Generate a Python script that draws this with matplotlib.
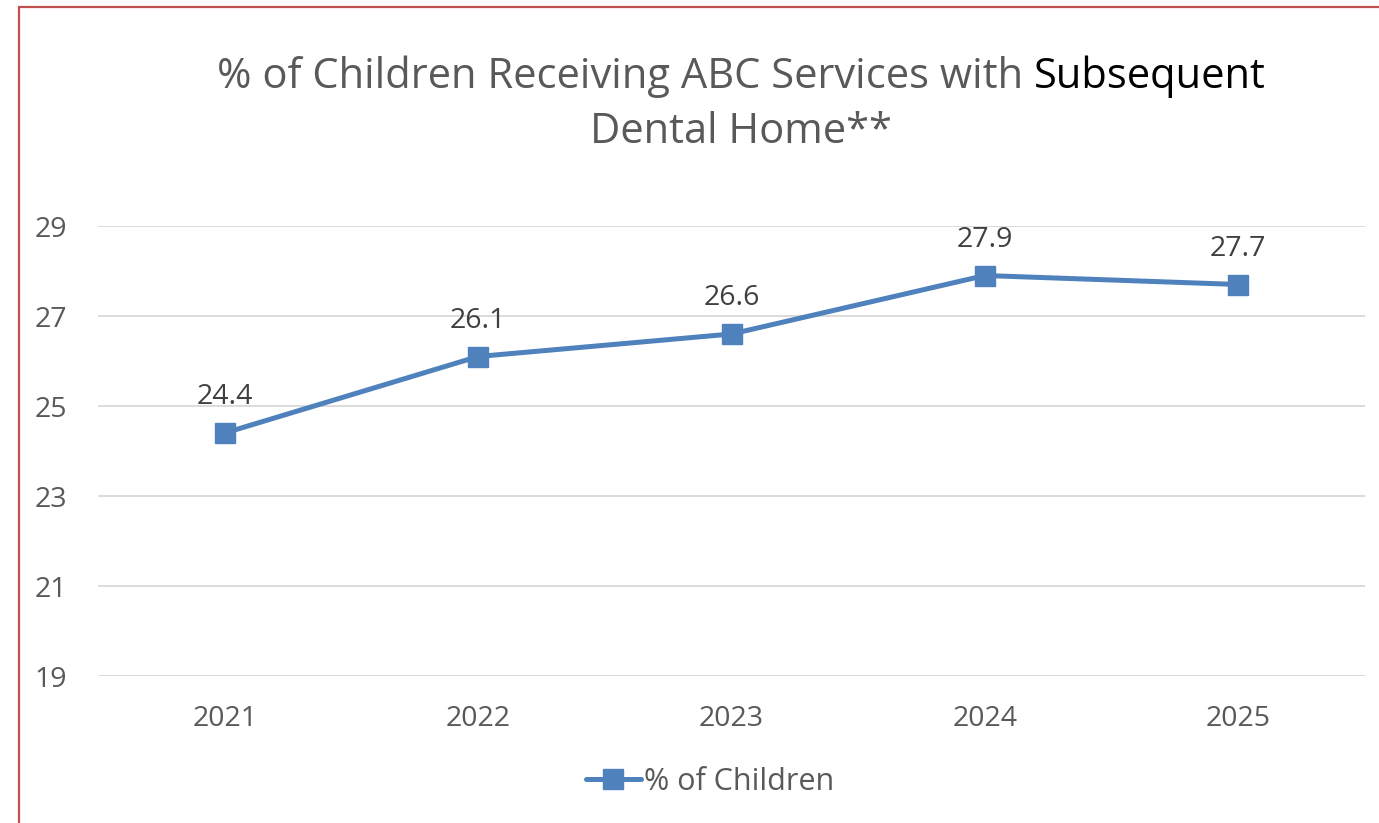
import matplotlib
matplotlib.use('Agg')
import matplotlib.pyplot as plt
from matplotlib.patches import Rectangle

plt.rcParams['font.family'] = ['Open Sans', 'DejaVu Sans']

# Datos
years = ['2021', '2022', '2023', '2024', '2025']
pct_children = [24.4, 26.1, 26.6, 27.9, 27.7]
y_ticks = [19, 21, 23, 25, 27, 29]
series_name = '% of Children'
title_gray = '% of Children Receiving ABC Services with '
title_black = 'Subsequent'
title_line2 = 'Dental Home**'

W, H, DPI = 1379, 823, 100
blue = '#4F81BD'
gray_txt = '#595959'
fs = 20.5

fig = plt.figure(figsize=(W / DPI, H / DPI), dpi=DPI)
ax = fig.add_axes([98 / W, 1 - 676 / H, (1365 - 98) / W, (676 - 226) / H])

x = list(range(len(years)))
ax.plot(x, pct_children, color=blue, lw=3.6, marker='s', ms=14.5,
        label=series_name, solid_capstyle='round')
for xi, v in zip(x, pct_children):
    ax.annotate(f'{v}', (xi, v), xytext=(0, 36), textcoords='offset pixels',
                ha='center', va='center', fontsize=fs, color='#404040')

ax.set_xlim(-0.5, len(years) - 0.5)
ax.set_ylim(19, 29)
ax.set_xticks(x)
ax.set_xticklabels(years)
ax.set_yticks(y_ticks)
ax.tick_params(length=0, labelsize=fs, labelcolor=gray_txt)
ax.tick_params(axis='y', pad=22)
ax.tick_params(axis='x', pad=21)
ax.grid(axis='y', color='#D9D9D9', lw=1.3)
ax.set_axisbelow(True)
for s in ax.spines.values():
    s.set_visible(False)

# Título en dos colores
fig.canvas.draw()
r = fig.canvas.get_renderer()
ts = 30
y1 = 1 - 88 / H
t1 = fig.text(0, y1, title_gray, fontsize=ts, color=gray_txt, va='baseline')
t2 = fig.text(0, y1, title_black, fontsize=ts, color='black', va='baseline')
w1 = t1.get_window_extent(r).width
w2 = t2.get_window_extent(r).width
cx = 741
t1.set_x((cx - (w1 + w2) / 2) / W)
t2.set_x((cx - (w1 + w2) / 2 + w1) / W)
fig.text(cx / W, 1 - 143 / H, title_line2, fontsize=ts, color=gray_txt,
         ha='center', va='baseline')

fig.legend(loc='center', bbox_to_anchor=(710 / W, 1 - 782 / H), frameon=False,
           fontsize=22, labelcolor=gray_txt, handlelength=1.8, handletextpad=0.1)

# Borde del gráfico
fig.patches.append(Rectangle((18.5 / W, -0.1), 1.2, 1 - 7.5 / H + 0.1,
                             transform=fig.transFigure, fill=False,
                             edgecolor='#C0504D', lw=1.6))

fig.savefig('out.png', dpi=DPI)
